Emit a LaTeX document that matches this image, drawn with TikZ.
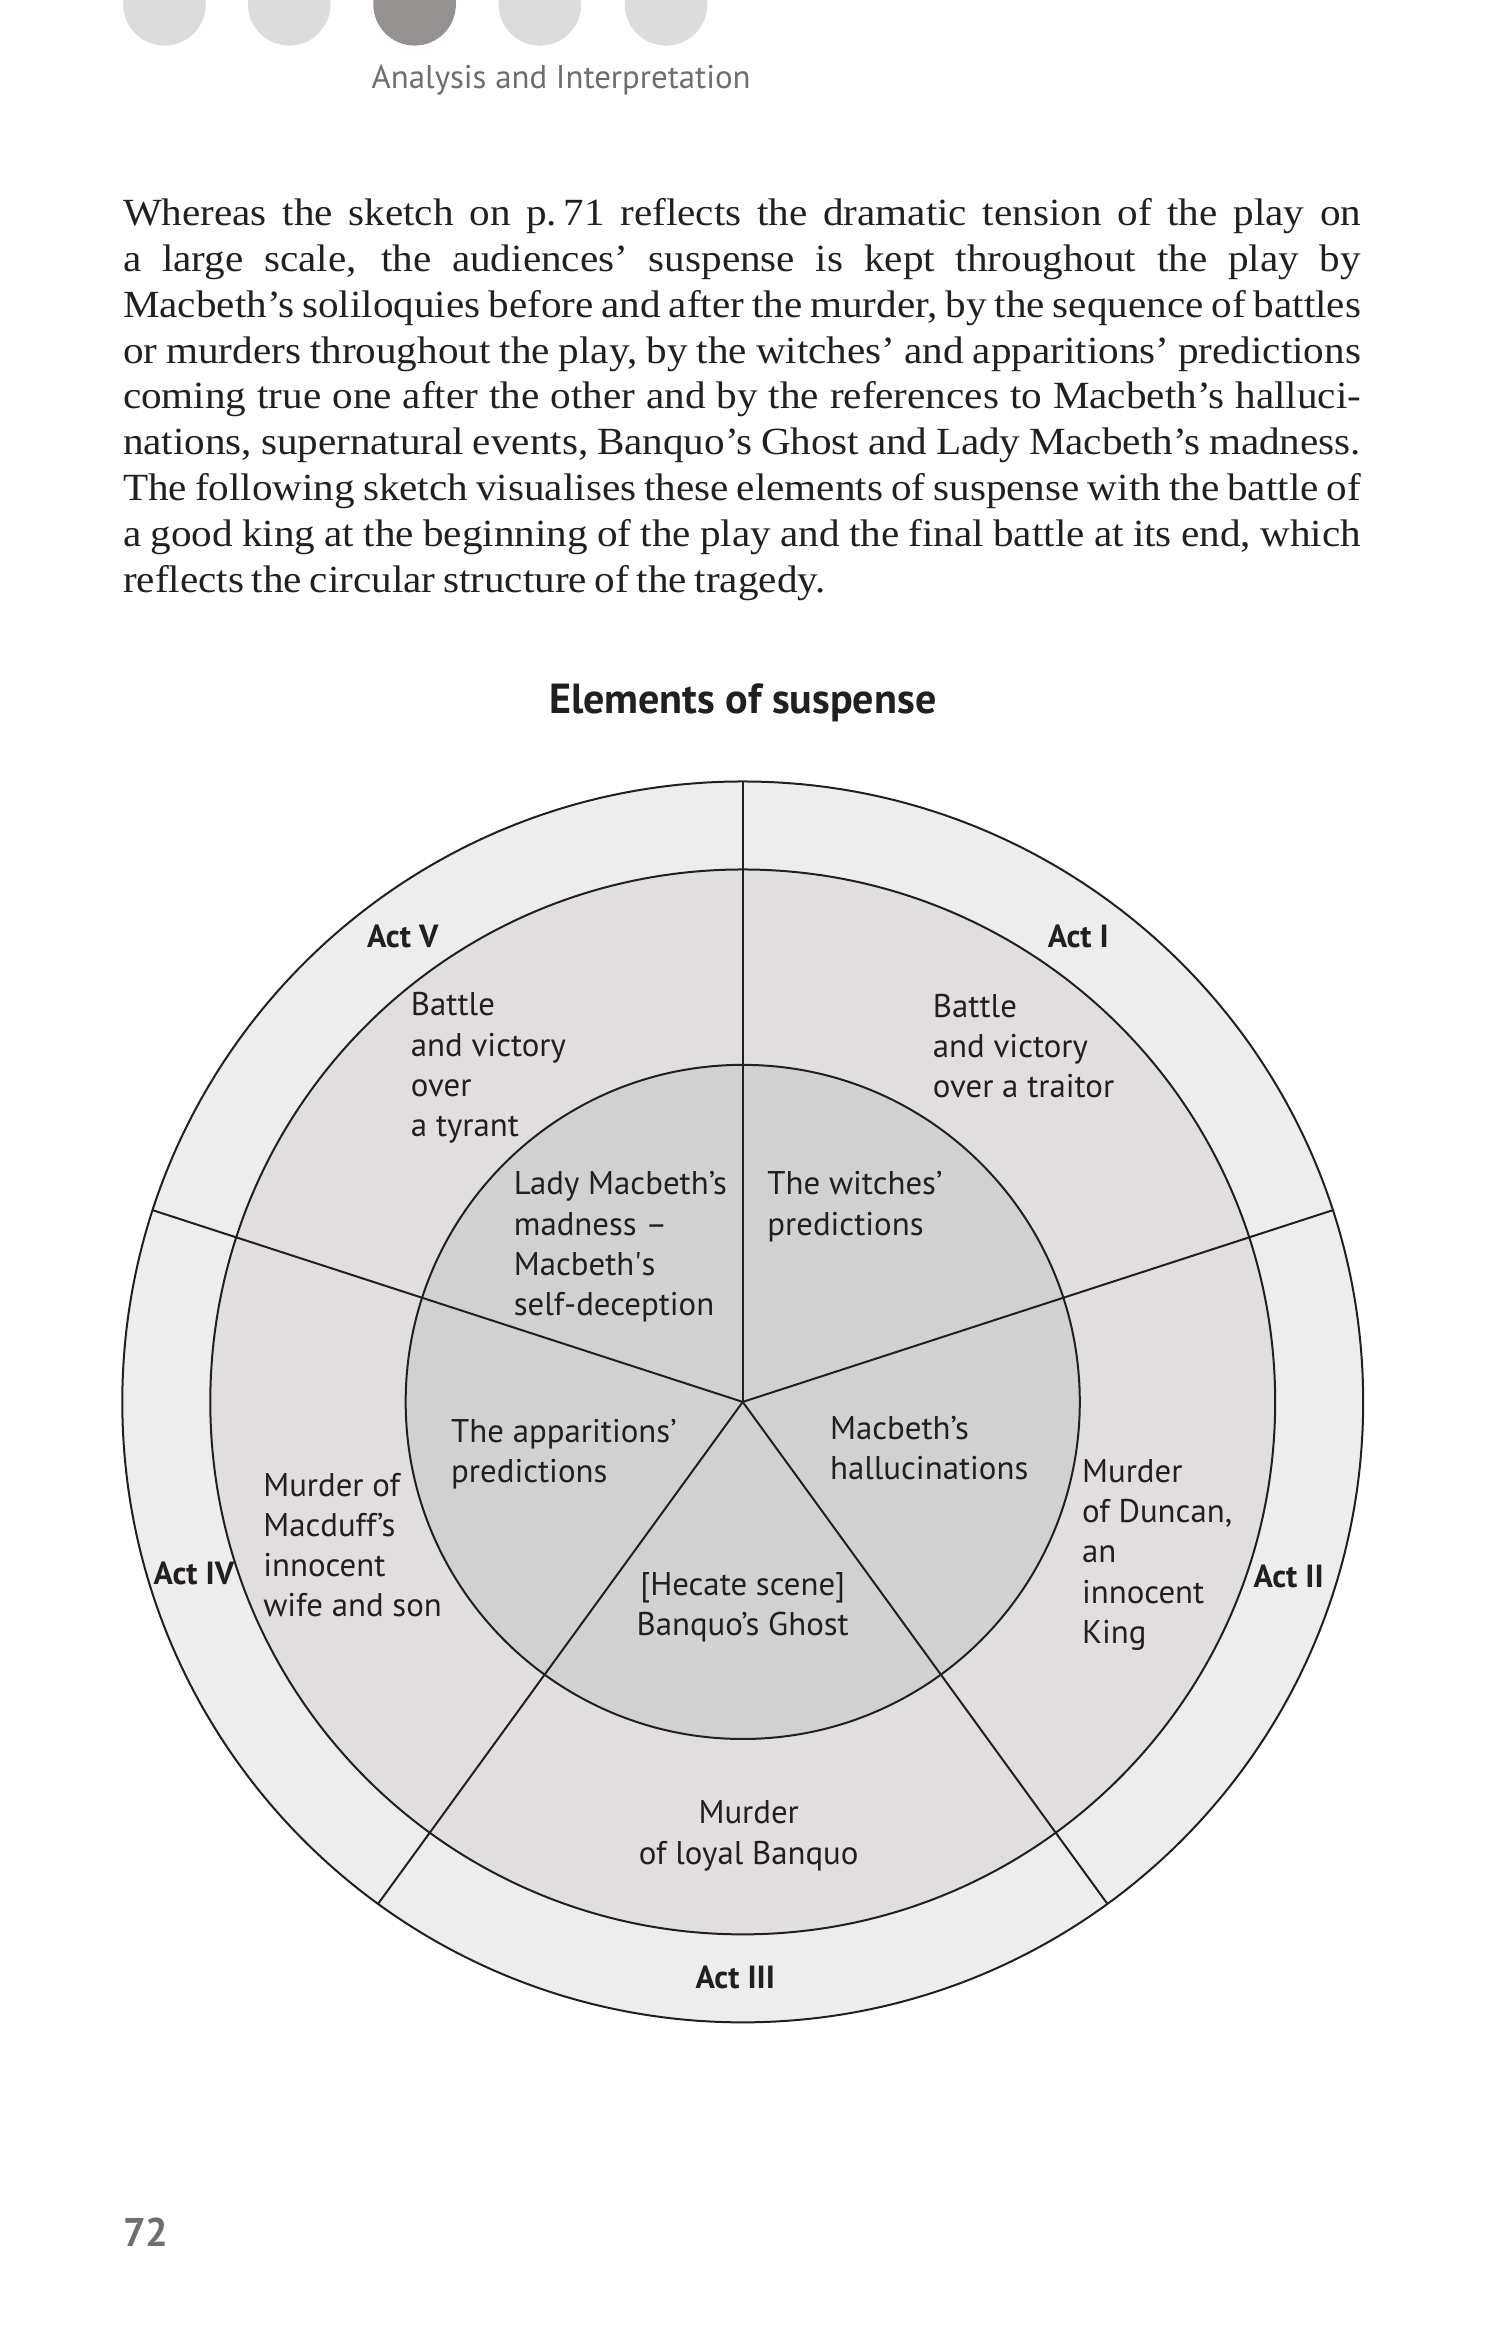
\documentclass[tikz,border=0pt]{standalone}
\usepackage{fontspec}
\setmainfont[FakeStretch=1.07, WordSpace={0.75,1,1.3}]{Liberation Serif}
\newfontfamily\sansfont{PT Sans}
\definecolor{ink}{HTML}{231F20}
\definecolor{pale}{HTML}{EEEDEE}
\definecolor{misty}{HTML}{E0DEDF}
\definecolor{ashen}{HTML}{D1D1D1}
\definecolor{pebble}{HTML}{DCDCDC}
\definecolor{slate}{HTML}{959191}
\definecolor{header}{HTML}{6D6E70}

\begin{document}
\begin{tikzpicture}[x=0.3724pt, y=0.3724pt,
    every node/.style={inner sep=0pt, text=ink},
    act/.style={font=\sansfont\bfseries\fontsize{8}{10}\selectfont},
    scene/.style={font=\sansfont\fontsize{8.2}{10.05}\selectfont, align=left, anchor=north west}]
    \useasboundingbox (0,0) rectangle (1007,1568.3);

    % page head
    \foreach \x / \c in {110.3/pebble, 193.9/pebble, 278/slate, 362/pebble, 446.6/pebble}
        \fill[\c] (\x,1565.4) circle[radius=27.7];
    \node[anchor=west, text=header, font=\sansfont\fontsize{8.2}{10}\selectfont] (head) at (248.7,1514.6) {Analysis and Interpretation};

    \node[anchor=north west, text width=309.1pt, align=justify, font=\fontsize{9.6}{11.45}\selectfont] (intro) at (82,1435.8)
        {Whereas the sketch on p.\,71 reflects the dramatic tension of the play on\linebreak
        a large scale, the audiences’ suspense is kept throughout the play by\linebreak
        Macbeth’s soliloquies before and after the murder, by the sequence of battles\linebreak
        or murders throughout the play, by the witches’ and apparitions’ predictions\linebreak
        coming true one after the other and by the references to Macbeth’s halluci-\linebreak
        nations, supernatural events, Banquo’s Ghost and Lady Macbeth’s madness.\linebreak
        The following sketch visualises these elements of suspense with the battle of\linebreak
        a good king at the beginning of the play and the final battle at its end, which\linebreak
        reflects the circular structure of the tragedy.};

    \node[font=\sansfont\bfseries\fontsize{10.5}{12}\selectfont] (title) at (498,1097.3) {Elements of suspense};

    % rings and spokes
    \coordinate (hub) at (498,628.3);
    \filldraw[fill=pale, draw=ink, line width=.5pt] (hub) circle[radius=416];
    \filldraw[fill=misty, draw=ink, line width=.5pt] (hub) circle[radius=357];
    \filldraw[fill=ashen, draw=ink, line width=.5pt] (hub) circle[radius=226];
    \foreach \a [count=\i] in {90,18,-54,-126,162} {
        \path (hub) ++(\a:416) coordinate (rim\i);
        \draw[ink, line width=.5pt] (hub) -- (rim\i);
    }

    \foreach \n / \x / \y / \t in {acti/723/940.3/Act I, actii/864/511.3/Act II, actiii/493/242.3/Act III, activ/130/513.3/Act IV, actv/270/940.3/Act V}
        \node[act] (\n) at (\x,\y) {\t};

    \node[scene] (traitor) at (625,902.3) {Battle\\and victory\\over a traitor};
    \node[scene] (tyrant) at (275,903.3) {Battle\\and victory\\over\\a tyrant};
    \node[scene] (madness) at (344,783.3) {Lady Macbeth’s\\madness –\\Macbeth\textquotesingle s\\self-deception};
    \node[scene] (witches) at (514,783.3) {The witches’\\predictions};
    \node[scene] (apparitions) at (302,617.3) {The apparitions’\\predictions};
    \node[scene] (visions) at (556,619.3) {Macbeth’s\\hallucinations};
    \node[scene, align=center, anchor=north] (hecate) at (498,514.3) {[Hecate scene]\\Banquo’s Ghost};
    \node[scene] (macduff) at (176,581.3) {Murder of\\Macduff’s\\innocent\\wife and son};
    \node[scene] (duncan) at (725,590.3) {Murder\\of Duncan,\\an\\innocent\\King};
    \node[scene, align=center, anchor=north] (banquo) at (502,361.3) {Murder\\of loyal Banquo};

    \node[anchor=west, text=header, font=\sansfont\bfseries\fontsize{10}{12}\selectfont] (folio) at (82,71.3) {72};
\end{tikzpicture}
\end{document}
